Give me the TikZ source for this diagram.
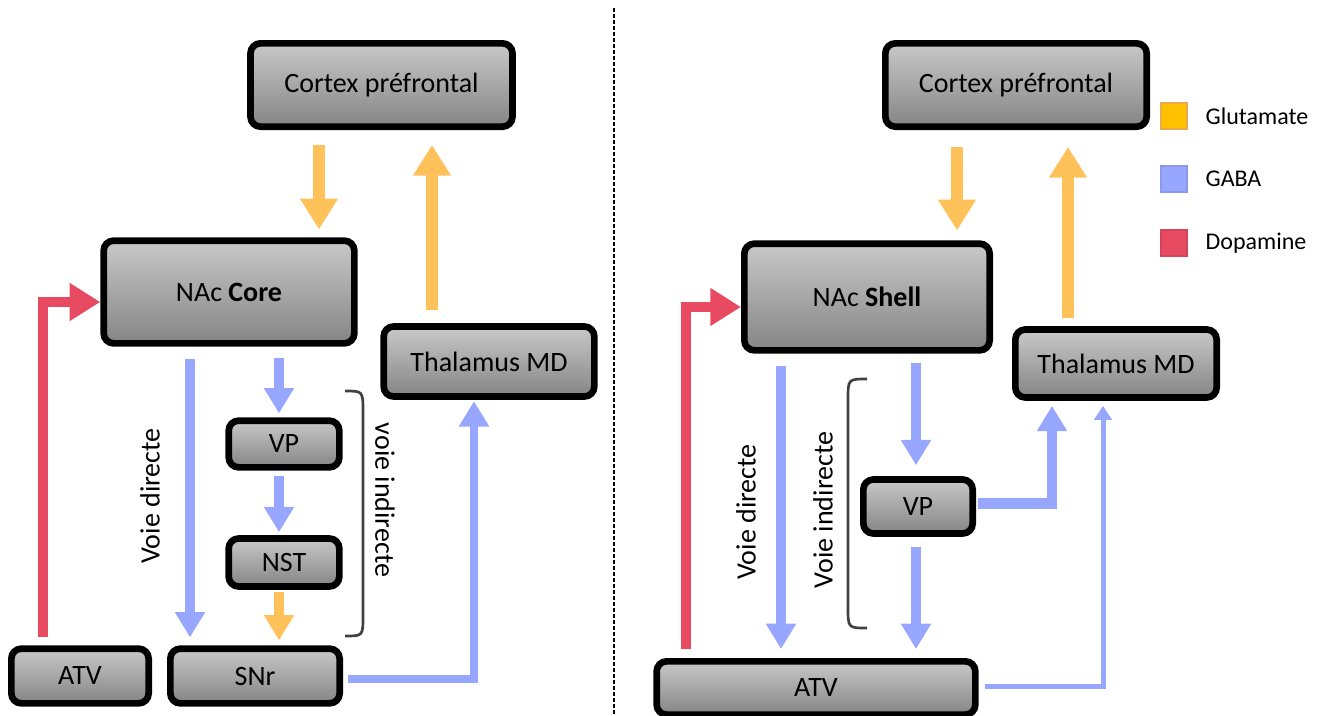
\documentclass[tikz,border=0pt]{standalone}
\usepackage{fontspec}
\setmainfont{Carlito}
\usetikzlibrary{arrows.meta,positioning}

\definecolor{gluCol}{HTML}{FFC15A}
\definecolor{gabaCol}{HTML}{97A6FF}
\definecolor{dopaCol}{HTML}{E84A62}
\definecolor{gluKey}{HTML}{FFC000}
\definecolor{gluKeyLine}{HTML}{E8AA4C}
\definecolor{gabaKeyLine}{HTML}{8A99EA}
\definecolor{dopaKeyLine}{HTML}{D2445B}
\definecolor{boxTop}{HTML}{C8C8C8}
\definecolor{boxMid}{HTML}{AEAEAE}
\definecolor{boxBot}{HTML}{858585}

\tikzset{
  box/.style={draw=black,line width=5pt,rounded corners=7.5pt,
    top color=boxTop,middle color=boxMid,bottom color=boxBot,
    inner sep=0pt,font=\fontsize{21}{25}\selectfont},
  lbl/.style={inner sep=0pt,font=\fontsize{21}{25}\selectfont},
  bigtip/.style={-{Triangle[length=23pt,width=27pt]}},
  midtip/.style={-{Triangle[length=19pt,width=21.5pt]}},
  thintip/.style={-{Triangle[length=10.5pt,width=13pt]}},
  glu/.style={draw=gluCol,line width=9pt,bigtip},
  glus/.style={draw=gluCol,line width=7.5pt,midtip},
  gaba/.style={draw=gabaCol,line width=7.5pt,midtip},
  gabathin/.style={draw=gabaCol,line width=3.75pt,thintip},
  dopa/.style={draw=dopaCol,line width=8pt,bigtip},
  brace/.style={draw=black!75,line width=2pt},
  legbox/.style={line width=1.5pt,minimum size=19.5pt,inner sep=0pt},
  legtext/.style={inner sep=0pt,font=\fontsize{18}{22}\selectfont}
}

\begin{document}
\begin{tikzpicture}[x=0.75pt,y=-0.75pt]
  \useasboundingbox (0,0) rectangle (1328,715);

  % left panel: NAc core
  \node[box,minimum width=196.5pt,minimum height=62.5pt] (cortexL) at (381.5,85) {Cortex préfrontal};
  \node[box,minimum width=188pt,minimum height=77pt] (nacL) at (229,292) {NAc \textbf{Core}};
  \node[box,minimum width=158pt,minimum height=52.5pt] (thalL) at (489,361.5) {Thalamus MD};
  \node[box,minimum width=83pt,minimum height=35pt] (vpL) at (284,444) {VP};
  \node[box,minimum width=83pt,minimum height=36pt] (nstL) at (284,562.5) {NST};
  \node[box,minimum width=103pt,minimum height=41pt] (atvL) at (80,676) {ATV};
  \node[box,minimum width=127pt,minimum height=41pt] (snr) at (255,676) {SNr};

  % right panel: NAc shell
  \node[box,minimum width=196pt,minimum height=62.5pt] (cortexR) at (1016,85) {Cortex préfrontal};
  \node[box,minimum width=184pt,minimum height=80pt] (nacR) at (867,297) {NAc \textbf{Shell}};
  \node[box,minimum width=151pt,minimum height=51pt] (thalR) at (1116,363.5) {Thalamus MD};
  \node[box,minimum width=82pt,minimum height=40.5pt] (vpR) at (918,506.5) {VP};
  \node[box,minimum width=239pt,minimum height=40pt] (atvR) at (816,688) {ATV};

  % columns of the vertical arrows
  \coordinate (gL) at (319,0);
  \coordinate (gLu) at (432,0);
  \coordinate (bL) at (279,0);
  \coordinate (dL) at (190,0);
  \coordinate (gR) at (957,0);
  \coordinate (gRu) at (1068,0);
  \coordinate (bR) at (916,0);
  \coordinate (dR) at (781,0);

  % left arrows
  \draw[glu] ([yshift=-11.25pt]cortexL.south -| gL) -- ([yshift=6pt]nacL.north -| gL);
  \draw[glu] ([yshift=9.75pt]thalL.north -| gLu) -- ([yshift=-11.25pt]cortexL.south -| gLu);
  \draw[gaba] ([yshift=-8.25pt]nacL.south -| bL) -- ([yshift=3pt]vpL.north -| bL);
  \draw[gaba] ([yshift=-3.75pt]vpL.south -| bL) -- ([yshift=2.25pt]nstL.north -| bL);
  \draw[glus] ([yshift=-1.5pt]nstL.south -| bL) -- ([yshift=3.75pt]snr.north -| bL);
  \draw[gaba] ([yshift=-9pt]nacL.south -| dL) -- ([yshift=6pt]snr.north -| dL);
  \draw[dopa] ([xshift=-27.75pt,yshift=6pt]atvL.north) |- ([yshift=-7.5pt]nacL.west);
  \draw[draw=gabaCol,line width=6pt,midtip] ([xshift=3.75pt,yshift=-2.25pt]snr.east) -| ([xshift=-11.25pt,yshift=-1pt]thalL.south);

  % right arrows
  \draw[glu] ([yshift=-12.75pt]cortexR.south -| gR) -- ([yshift=7.5pt]nacR.north -| gR);
  \draw[glu] ([yshift=6pt]thalR.north -| gRu) -- ([yshift=-12.75pt]cortexR.south -| gRu);
  \draw[gaba] ([yshift=-6.75pt]nacR.south -| bR) -- ([yshift=8.25pt]vpR.north -| bR);
  \draw[gaba] ([yshift=-7.5pt]vpR.south -| bR) -- ([yshift=6.75pt]atvR.north -| bR);
  \draw[gaba] ([yshift=-9pt]nacR.south -| dR) -- ([yshift=6.75pt]atvR.north -| dR);
  \draw[dopa] ([xshift=-97.5pt,yshift=6.75pt]atvR.north) |- ([yshift=-7.5pt]nacR.west);
  \draw[draw=gabaCol,line width=8pt,midtip] ([xshift=1.5pt,yshift=2.5pt]vpR.east) -| ([xshift=-48pt,yshift=-3.75pt]thalR.south);
  \draw[gabathin] ([xshift=4.5pt,yshift=1.5pt]atvR.east) -| ([xshift=-9.75pt,yshift=-3.75pt]thalR.south);

  % braces and path labels
  \draw[brace] (345,391) .. controls (363,391) .. (363,412) -- (363,616) .. controls (363,636) .. (345,636);
  \draw[brace] (867,379) .. controls (848,379) .. (848,400) -- (848,607) .. controls (848,628) .. (867,628);
  \node[lbl,rotate=90] (dirL) at (150,496) {Voie directe};
  \node[lbl,rotate=-90] (indirL) at (385,500) {voie indirecte};
  \node[lbl,rotate=90] (dirR) at (746,512) {Voie directe};
  \node[lbl,rotate=90] (indirR) at (823,510) {Voie indirecte};

  % separator
  \draw[line width=1.5pt,dash pattern=on 3pt off 1.5pt] (614,8) -- (614,715);

  % legend
  \node[legbox,draw=gluKeyLine,fill=gluKey] (kGlu) at (1174,116) {};
  \node[legbox,draw=gabaKeyLine,fill=gabaCol] (kGaba) at (1174,179) {};
  \node[legbox,draw=dopaKeyLine,fill=dopaCol] (kDopa) at (1174,243) {};
  \node[legtext,right=13pt of kGlu] (tGlu) {Glutamate};
  \node[legtext,right=13pt of kGaba] (tGaba) {GABA};
  \node[legtext,right=13pt of kDopa] (tDopa) {Dopamine};
\end{tikzpicture}
\end{document}
